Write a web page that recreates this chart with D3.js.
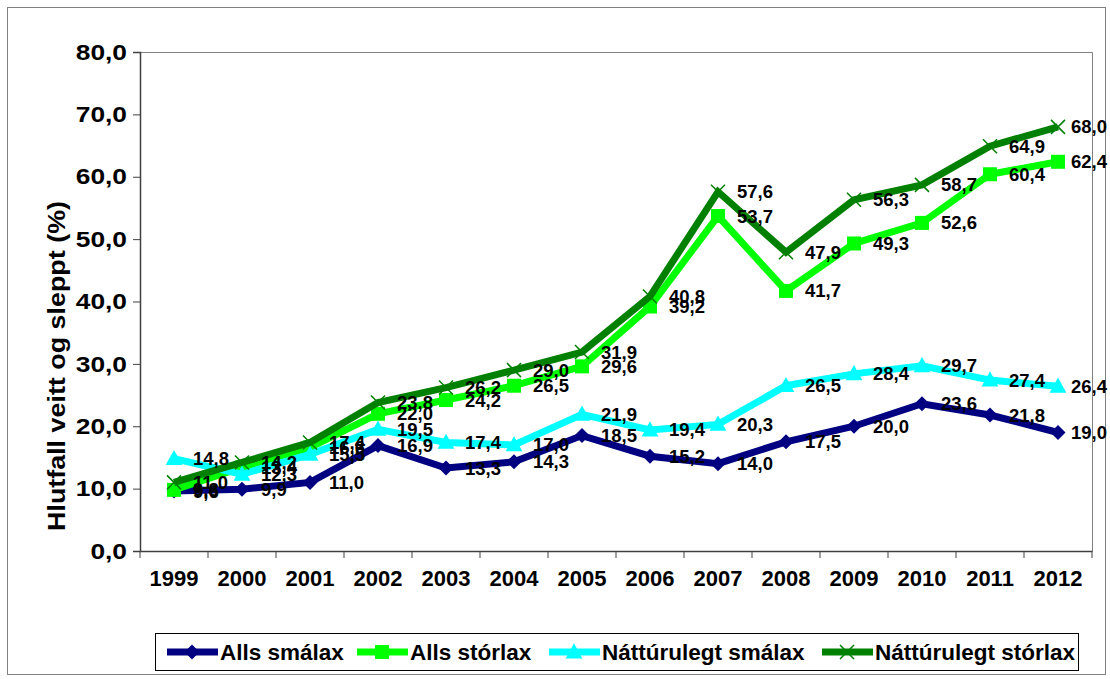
<!DOCTYPE html>
<html>
<head>
<meta charset="utf-8">
<script src="https://cdn.jsdelivr.net/npm/d3@7"></script>
<style>
  body { margin: 0; background: #fff; }
  text { font-family: "Liberation Sans", Arial, sans-serif; font-weight: bold; }
</style>
</head>
<body>
<script>
const years = ["1999", "2000", "2001", "2002", "2003", "2004", "2005", "2006", "2007", "2008", "2009", "2010", "2011", "2012"];
const allsSmalax = [9.6, 9.9, 11.0, 16.9, 13.3, 14.3, 18.5, 15.2, 14.0, 17.5, 20.0, 23.6, 21.8, 19.0];
const allsStorlax = [9.8, 13.4, 16.6, 22.0, 24.2, 26.5, 29.6, 39.2, 53.7, 41.7, 49.3, 52.6, 60.4, 62.4];
const natSmalax = [14.8, 12.3, 15.5, 19.5, 17.4, 17.0, 21.9, 19.4, 20.3, 26.5, 28.4, 29.7, 27.4, 26.4];
const natStorlax = [11.0, 14.2, 17.4, 23.8, 26.2, 29.0, 31.9, 40.8, 57.6, 47.9, 56.3, 58.7, 64.9, 68.0];
const seriesNames = ["Alls smálax", "Alls stórlax", "Náttúrulegt smálax", "Náttúrulegt stórlax"];
const yTicks = [0, 10, 20, 30, 40, 50, 60, 70, 80];

const series = [
  { name: seriesNames[0], values: allsSmalax, color: "#000080", marker: "diamond" },
  { name: seriesNames[1], values: allsStorlax, color: "#00FF00", marker: "square" },
  { name: seriesNames[2], values: natSmalax, color: "#00FFFF", marker: "triangle" },
  { name: seriesNames[3], values: natStorlax, color: "#008000", marker: "x" },
];

const W = 1110, H = 679;
const plot = { left: 140, right: 1092, top: 52, bottom: 551 };
const fmt = (v) => d3.format(".1f")(v).replace(".", ",");

const svg = d3.select("body").append("svg")
  .attr("width", W)
  .attr("height", H);

// outer chart border
svg.append("rect")
  .attr("x", 7.5).attr("y", 7.5)
  .attr("width", 1098).attr("height", 667)
  .attr("fill", "#fff")
  .attr("stroke", "#808080");

const x = d3.scaleBand().domain(years).range([plot.left, plot.right]).padding(0);
const y = d3.scaleLinear().domain([0, 80]).range([plot.bottom, plot.top]);

// plot area border (top & right)
svg.append("path")
  .attr("d", `M${plot.left},${plot.top + 0.5}H${plot.right + 0.5}V${plot.bottom}`)
  .attr("fill", "none")
  .attr("stroke", "#808080");

// y axis
const yAxis = svg.append("g")
  .attr("transform", `translate(${plot.left},0)`)
  .call(d3.axisLeft(y).tickValues(yTicks).tickFormat(fmt).tickSize(7).tickPadding(6));
yAxis.select(".domain").attr("stroke", "#404040").attr("stroke-width", 1.5);
yAxis.selectAll(".tick line").attr("stroke", "#404040");
yAxis.selectAll(".tick text").attr("font-size", 22.5).attr("fill", "#000")
  .style("font-family", '"Liberation Sans", Arial, sans-serif').style("font-weight", "bold")
  .each(function () {
    // the reference labels are a little wider than the plain font
    const w = this.getComputedTextLength();
    d3.select(this).attr("textLength", w * 1.17).attr("lengthAdjust", "spacingAndGlyphs");
  });

// x axis with ticks between categories
const xAxis = svg.append("g")
  .attr("transform", `translate(0,${plot.bottom})`)
  .call(d3.axisBottom(x).tickSize(0).tickPadding(19));
xAxis.select(".domain").attr("stroke", "#404040").attr("stroke-width", 1.5);
xAxis.selectAll(".tick text").attr("font-size", 22).attr("fill", "#000")
  .style("font-family", '"Liberation Sans", Arial, sans-serif').style("font-weight", "bold");
xAxis.selectAll(".sep")
  .data(years.concat(["end"]))
  .enter().append("line")
  .attr("class", "sep")
  .attr("x1", (d, i) => plot.left + i * x.step())
  .attr("x2", (d, i) => plot.left + i * x.step())
  .attr("y1", 0).attr("y2", 7)
  .attr("stroke", "#404040");

// y axis title
svg.append("text")
  .attr("transform", `translate(65,366) rotate(-90)`)
  .attr("text-anchor", "middle")
  .attr("font-size", 24)
  .attr("textLength", 330)
  .attr("lengthAdjust", "spacingAndGlyphs")
  .text("Hlutfall veitt og sleppt (%)");

const line = d3.line()
  .x((d, i) => x(years[i]) + x.bandwidth() / 2)
  .y((d) => y(d));

const drawMarker = (g, type, color, size) => {
  if (type === "diamond") {
    g.append("path").attr("d", `M0,${-size}L${size},0L0,${size}L${-size},0Z`).attr("fill", color);
  } else if (type === "square") {
    g.append("rect").attr("x", -size).attr("y", -size).attr("width", size * 2).attr("height", size * 2).attr("fill", color);
  } else if (type === "triangle") {
    g.append("path").attr("d", `M0,${-size * 1.1}L${size * 1.05},${size * 0.8}L${-size * 1.05},${size * 0.8}Z`).attr("fill", color);
  } else {
    g.append("path").attr("d", `M${-size},${-size}L${size},${size}M${size},${-size}L${-size},${size}`)
      .attr("stroke", color).attr("stroke-width", 1.5).attr("fill", "none");
  }
};

const markerSize = { diamond: 7.5, square: 7, triangle: 8, x: 7 };

series.forEach((s) => {
  const g = svg.append("g");
  g.append("path")
    .datum(s.values)
    .attr("fill", "none")
    .attr("stroke", s.color)
    .attr("stroke-width", 7)
    .attr("stroke-linejoin", "miter")
    .attr("d", line);
  g.selectAll(".m")
    .data(s.values)
    .enter().append("g")
    .attr("transform", (d, i) => `translate(${x(years[i]) + x.bandwidth() / 2},${y(d)})`)
    .each(function () { drawMarker(d3.select(this), s.marker, s.color, markerSize[s.marker]); });
});

// data labels, kept inside the chart edge
series.forEach((s) => {
  svg.append("g").selectAll("text")
    .data(s.values)
    .enter().append("text")
    .attr("x", (d, i) => Math.min(x(years[i]) + x.bandwidth() / 2 + 19, 1071))
    .attr("y", (d) => y(d) + 6.5)
    .attr("font-size", 18.5)
    .text(fmt);
});

// legend
const legend = svg.append("g");
legend.append("rect")
  .attr("x", 155.5).attr("y", 633.5)
  .attr("width", 923).attr("height", 37)
  .attr("fill", "#fff").attr("stroke", "#000");
const legendX = [167, 357, 549, 822];
const ly = 652;
series.forEach((s, i) => {
  const lx = legendX[i];
  const item = legend.append("g");
  item.append("line")
    .attr("x1", lx).attr("x2", lx + 51)
    .attr("y1", ly).attr("y2", ly)
    .attr("stroke", s.color).attr("stroke-width", 7);
  const mg = item.append("g").attr("transform", `translate(${lx + 25},${ly})`);
  drawMarker(mg, s.marker, s.color, markerSize[s.marker]);
  item.append("text")
    .attr("x", lx + 53).attr("y", ly + 8)
    .attr("font-size", 22.5)
    .text(s.name);
});
</script>
</body>
</html>
